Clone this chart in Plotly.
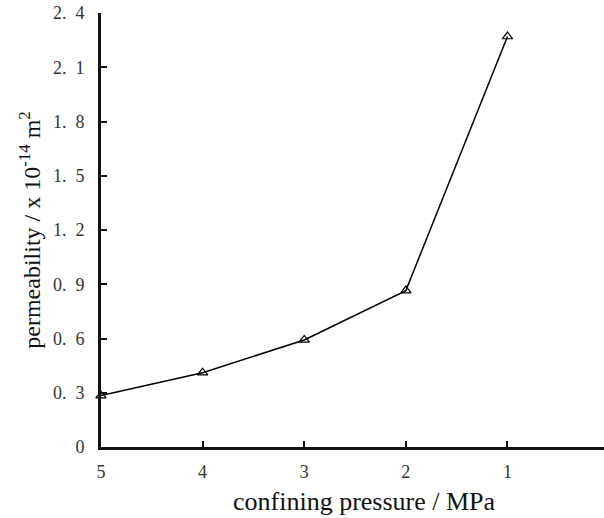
import plotly.graph_objects as go

# confining pressure (MPa) and measured permeability (x10^-14 m^2)
pressure = [5, 4, 3, 2, 1]
permeability = [0.284, 0.411, 0.592, 0.865, 2.27]

y_ticks = [0, 0.3, 0.6, 0.9, 1.2, 1.5, 1.8, 2.1, 2.4]
y_labels = ["0", "0.\u20023", "0.\u20026", "0.\u20029", "1.\u20022", "1.\u20025",
            "1.\u20028", "2.\u20021", "2.\u20024"]
x_ticks = [5, 4, 3, 2, 1]
x_labels = ["5", "4", "3", "2", "1"]

serif = "Liberation Serif, Times New Roman, serif"

fig = go.Figure(
    go.Scatter(
        x=pressure,
        y=permeability,
        mode="lines+markers",
        line=dict(color="black", width=1.5),
        marker=dict(symbol="triangle-up-open", size=9, color="black",
                    line=dict(width=1.2, color="black")),
        cliponaxis=False,
    )
)

fig.update_layout(
    width=604,
    height=518,
    margin=dict(l=101, r=0, t=13, b=71),
    paper_bgcolor="white",
    plot_bgcolor="white",
    showlegend=False,
    font=dict(family=serif, color="#222"),
    annotations=[
        dict(
            text="confining pressure / MPa",
            xref="paper", yref="paper",
            x=0.523, y=-0.125,
            xanchor="center", yanchor="middle",
            showarrow=False,
            font=dict(size=26, family=serif, color="#111"),
        )
    ],
)

fig.update_xaxes(
    range=[5, 0.05],
    tickvals=x_ticks,
    ticktext=x_labels,
    ticks="inside",
    ticklen=6,
    tickwidth=2,
    tickcolor="#111",
    showline=True,
    linewidth=3,
    linecolor="#111",
    showgrid=False,
    zeroline=False,
    tickfont=dict(size=18, family=serif, color="#333"),
    ticklabelstandoff=6,
)

fig.update_yaxes(
    range=[0, 2.4],
    tickvals=y_ticks,
    ticktext=y_labels,
    ticks="inside",
    ticklen=6,
    tickwidth=2,
    tickcolor="#111",
    showline=True,
    linewidth=3,
    linecolor="#111",
    showgrid=False,
    zeroline=False,
    tickfont=dict(size=18, family=serif, color="#333"),
    ticklabelstandoff=10,
    title=dict(text="permeability / x 10<sup>-14</sup> m<sup>2</sup>",
               font=dict(size=24, family=serif, color="#111"), standoff=6),
)

fig.write_html("out.html")
